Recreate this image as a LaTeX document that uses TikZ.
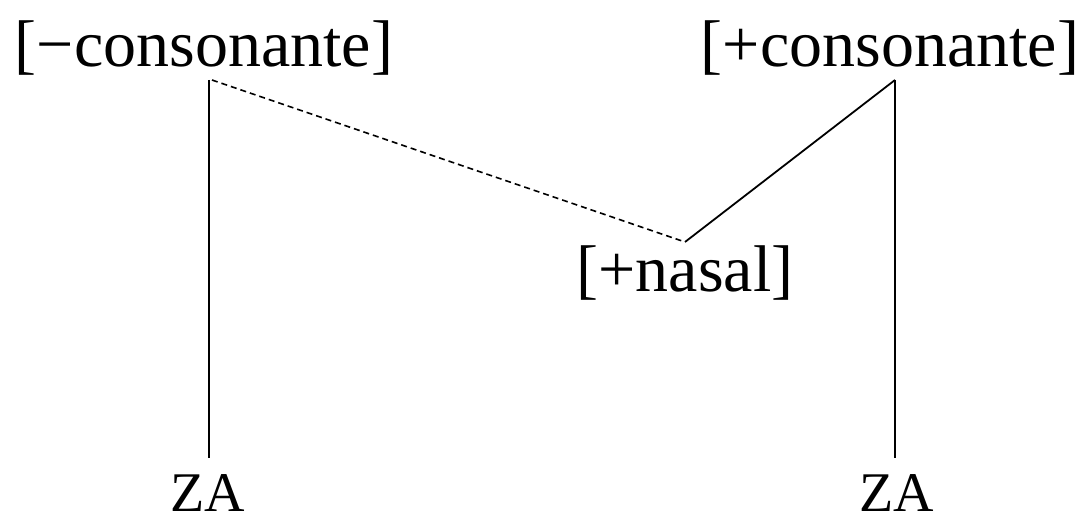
\documentclass[tikz,border=0pt]{standalone}
\usepackage{fontspec}
\setmainfont{Liberation Serif}
\begin{document}
\begin{tikzpicture}[x=0.5pt,y=-0.5pt,
  feat/.style={inner sep=0pt,anchor=base,font=\fontsize{33}{36}\selectfont},
  za/.style={inner sep=0pt,anchor=base,font=\fontsize{28}{32}\selectfont},
  link/.style={line width=0.9pt},
  dlink/.style={line width=0.8pt,dash pattern=on 3pt off 2pt}]
\useasboundingbox (0,0) rectangle (1091,522);
\node[feat] (lc) at (204,67) {[−consonante]};
\node[feat] (rc) at (890,67) {[+consonante]};
\node[feat] (na) at (685,292) {[+nasal]};
\node[za] (zl) at (208,512) {ZA};
\node[za] (zr) at (897,512) {ZA};
\coordinate (lcb) at (209,80);
\coordinate (lcd) at (212,80);
\coordinate (rcb) at (895,80);
\coordinate (nat) at (685,242);
\coordinate (zlt) at (209,458);
\coordinate (zrt) at (895,458);
\draw[link] (lcb) -- (zlt);
\draw[dlink] (lcd) -- (nat);
\draw[link] (nat) -- (rcb);
\draw[link] (rcb) -- (zrt);
\end{tikzpicture}
\end{document}
